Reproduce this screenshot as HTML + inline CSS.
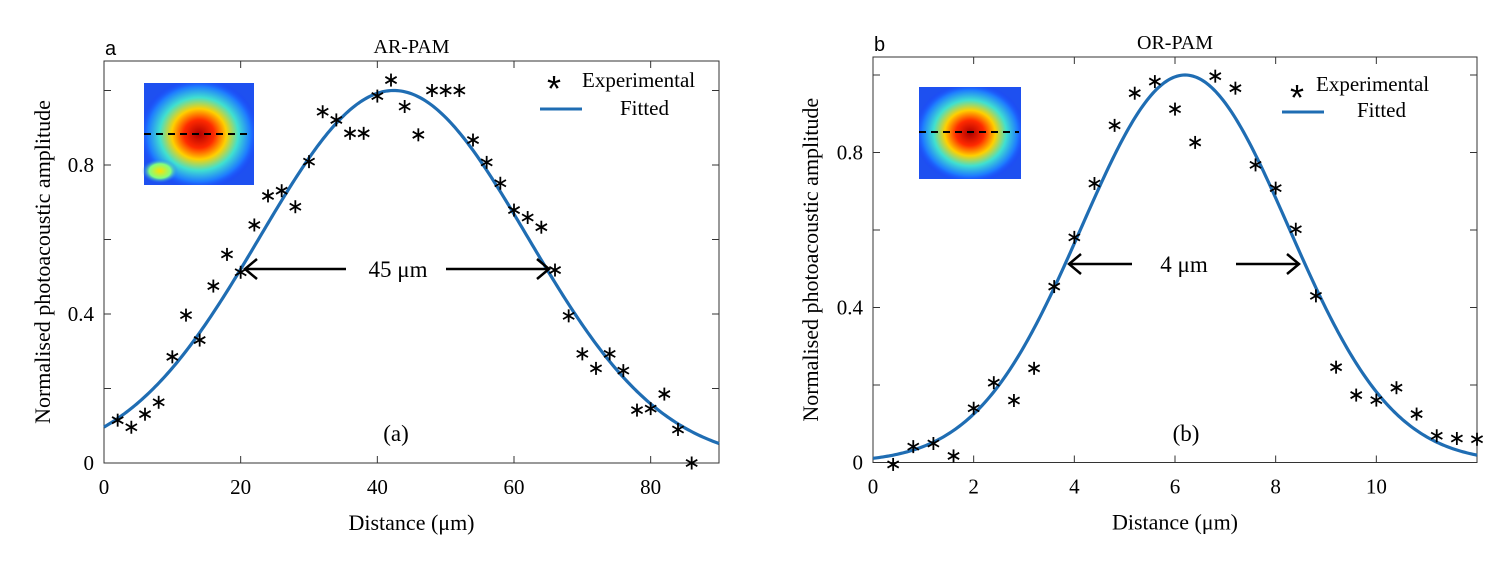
<!DOCTYPE html>
<html><head><meta charset="utf-8"><style>
html,body{margin:0;padding:0;background:#fff;}
svg{display:block;font-family:"Liberation Serif",serif;}
</style></head><body>
<svg id="fig" width="1500" height="565" viewBox="0 0 1500 565" xmlns="http://www.w3.org/2000/svg">
<defs>
<radialGradient id="spotA" cx="0.5" cy="0.5" r="0.55">
<stop offset="0" stop-color="#b00000"/><stop offset="0.25" stop-color="#ff2a00"/><stop offset="0.45" stop-color="#ffd000"/><stop offset="0.65" stop-color="#40e0d0"/><stop offset="0.85" stop-color="#1e7bff"/><stop offset="1" stop-color="#1a3cff" stop-opacity="0"/></radialGradient>
<radialGradient id="spotY" cx="0.5" cy="0.5" r="0.5">
<stop offset="0" stop-color="#ffe000"/><stop offset="0.6" stop-color="#80ff80"/><stop offset="1" stop-color="#2080ff" stop-opacity="0"/></radialGradient>
</defs>
<g id="panelA"></g>
<g id="panelB"></g>
</svg>
<script>
// Panel A data (AR-PAM)
const aX = [2,4,6,8,10,12,14,16,18,20,22,24,26,28,30,32,34,36,38,40,42,44,46,48,50,52,54,56,58,60,62,64,66,68,70,72,74,76,78,80,82,84,86];
const aY = [0.115,0.096,0.131,0.163,0.285,0.397,0.330,0.475,0.560,0.512,0.639,0.717,0.731,0.688,0.809,0.943,0.921,0.885,0.885,0.985,1.028,0.957,0.881,1.0,1.0,1.0,0.867,0.807,0.751,0.679,0.659,0.633,0.518,0.395,0.293,0.254,0.293,0.248,0.142,0.146,0.185,0.090,0.0];
const aFit = {amp:1.0, mu:42.4, sigma:19.6};
const aXTicks = [0,20,40,60,80];
const aYTicks = [0,0.2,0.4,0.6,0.8,1.0];
const aYLabels = [0,0.4,0.8];
// Panel B data (OR-PAM)
const bX = [0.4,0.8,1.2,1.6,2.0,2.4,2.8,3.2,3.6,4.0,4.4,4.8,5.2,5.6,6.0,6.4,6.8,7.2,7.6,8.0,8.4,8.8,9.2,9.6,10.0,10.4,10.8,11.2,11.6,12.0];
const bY = [-0.005,0.041,0.049,0.017,0.140,0.206,0.160,0.243,0.454,0.581,0.720,0.870,0.953,0.983,0.912,0.826,0.997,0.966,0.768,0.708,0.602,0.430,0.246,0.174,0.161,0.193,0.125,0.069,0.062,0.060];
const bFit = {amp:1.0, mu:6.2, sigma:2.06};
const bXTicks = [0,2,4,6,8,10];
const bYTicks = [0,0.2,0.4,0.6,0.8,1.0];
const bYLabels = [0,0.4,0.8];

const NS='http://www.w3.org/2000/svg';
function mk(parent, tag, attrs, text){
  const e=document.createElementNS(NS,tag);
  for(const k in attrs) e.setAttribute(k,attrs[k]);
  if(text!==undefined) e.textContent=text;
  parent.appendChild(e); return e;
}
function star(g,cx,cy){
  const s=mk(g,'g',{stroke:'#000','stroke-width':1.8});
  
  
  const r=6.5;
  for(let k=0;k<3;k++){const a=Math.PI/2+k*Math.PI/3;
    mk(s,'line',{x1:cx-r*Math.cos(a),y1:cy-r*Math.sin(a),x2:cx+r*Math.cos(a),y2:cy+r*Math.sin(a)});}
  return s;
}
function panel(g, cfg){
  const {L,R,T,B,xMax,yMin,yMax,xs,ys,fit,xt,yt,yl,title,letter,fwhm,arrow,inset,legend,sub}=cfg;
  const sx=v=>L+(v/xMax)*(R-L);
  const sy=v=>B-((v-yMin)/(yMax-yMin))*(B-T);
  const ax=mk(g,'rect',{x:L,y:T,width:R-L,height:B-T,fill:'none',stroke:'#333','stroke-width':1});
   
  const tg=mk(g,'g',{stroke:'#333','stroke-width':1});
   
  xt.forEach(v=>{const x=sx(v);mk(tg,'line',{x1:x,y1:B,x2:x,y2:B-7});mk(tg,'line',{x1:x,y1:T,x2:x,y2:T+7});
    const t=mk(g,'text',{x:x,y:B+31,'font-size':21,'text-anchor':'middle'},String(v));
     });
  yt.forEach(v=>{const y=sy(v);mk(tg,'line',{x1:L,y1:y,x2:L+7,y2:y});mk(tg,'line',{x1:R,y1:y,x2:R-7,y2:y});});
  yl.forEach(v=>{const y=sy(v);
    const t=mk(g,'text',{x:L-10,y:y+7,'font-size':21,'text-anchor':'end'},v===0?'0':String(v));
     });
  const ig=mk(g,'g',{});  
  mk(ig,'rect',{x:inset.x,y:inset.y,width:inset.w,height:inset.h,fill:'#1e50f0'});
  mk(ig,'rect',{x:inset.x,y:inset.y,width:inset.w,height:inset.h,fill:'url(#spotA)'});
  if(inset.yellow) mk(ig,'ellipse',{cx:inset.x+16,cy:inset.y+inset.h-14,rx:18,ry:12,fill:'url(#spotY)'});
  mk(ig,'line',{x1:inset.x,y1:inset.dy,x2:inset.x2,y2:inset.dy,stroke:'#000','stroke-width':2,'stroke-dasharray':'7,5'});
  let d='';
  for(let i=0;i<=300;i++){const x=xMax*i/300;const y=fit.amp*Math.exp(-Math.pow(x-fit.mu,2)/(2*fit.sigma*fit.sigma));
    d+=(i?'L':'M')+sx(x).toFixed(2)+','+sy(y).toFixed(2);}
  const fc=mk(g,'path',{d:d,fill:'none',stroke:'#1f6db3','stroke-width':3.2});
   
  xs.forEach((x,i)=>star(g,sx(x),sy(ys[i])));
  const ag=mk(g,'g',{stroke:'#000','stroke-width':2.5,fill:'none'});
   
  mk(ag,'line',{x1:arrow.l1,y1:arrow.y,x2:arrow.l2,y2:arrow.y});
  mk(ag,'polyline',{points:`${arrow.l1+12},${arrow.y-10} ${arrow.l1},${arrow.y} ${arrow.l1+12},${arrow.y+10}`});
  mk(ag,'line',{x1:arrow.r1,y1:arrow.y,x2:arrow.r2,y2:arrow.y});
  mk(ag,'polyline',{points:`${arrow.r2-12},${arrow.y-10} ${arrow.r2},${arrow.y} ${arrow.r2-12},${arrow.y+10}`});
  const ft=mk(g,'text',{x:arrow.tx,y:arrow.y+8,'font-size':23,'text-anchor':'middle'},fwhm);
   
  const lg=mk(g,'g',{});  
  const ls=mk(lg,'text',{x:legend.sx,y:legend.sy+18,'font-size':36,'text-anchor':'middle','font-family':'Liberation Sans, sans-serif'},'*');
   
  const le=mk(lg,'text',{x:legend.ex,y:legend.ey,'font-size':21},'Experimental');
   
  mk(lg,'line',{x1:legend.l1,y1:legend.ly,x2:legend.l2,y2:legend.ly,stroke:'#1f6db3','stroke-width':3});
  const lf=mk(lg,'text',{x:legend.fx,y:legend.fy,'font-size':21},'Fitted');
   
  const tt=mk(g,'text',{x:(L+R)/2,y:T-8,'font-size':20,'text-anchor':'middle'},title);
   
  const lt=mk(g,'text',{x:L+1,y:T-6,'font-size':20,'font-family':'Liberation Sans, sans-serif'},letter);
   
  const st=mk(g,'text',{x:sub.x,y:sub.y,'font-size':23,'text-anchor':'middle'},sub.t);
   
  const xl=mk(g,'text',{x:(L+R)/2,y:B+67,'font-size':22,'text-anchor':'middle'},'Distance (\u03bcm)');
   
  const yc=(T+B)/2;
  const yt2=mk(g,'text',{x:cfg.ylx,y:yc,'font-size':22,'text-anchor':'middle',transform:`rotate(-90 ${cfg.ylx} ${yc})`},'Normalised photoacoustic amplitude');
   
}
panel(document.getElementById('panelA'),{L:104,R:719,T:61,B:463,xMax:90,yMin:0,yMax:402/372.5,
  xs:aX,ys:aY,fit:aFit,xt:aXTicks,yt:aYTicks,yl:aYLabels,title:'AR-PAM',letter:'a',fwhm:'45 \u03bcm',
  arrow:{y:269,l1:245,l2:346,r1:446,r2:549,tx:398},
  inset:{x:144,y:83,w:110,h:102,dy:134,x2:250,yellow:true},
  legend:{sx:554,sy:83,ex:582,ey:87,l1:540,l2:582,ly:109,fx:620,fy:115},
  sub:{x:396,y:441,t:'(a)'},ylx:50});
panel(document.getElementById('panelB'),{L:873,R:1477,T:57,B:462.5,xMax:12,yMin:0,yMax:405.5/387.5,
  xs:bX,ys:bY,fit:bFit,xt:bXTicks,yt:bYTicks,yl:bYLabels,title:'OR-PAM',letter:'b',fwhm:'4 \u03bcm',
  arrow:{y:264,l1:1069,l2:1132,r1:1236,r2:1299,tx:1184},
  inset:{x:919,y:87,w:102,h:92,dy:132,x2:1019,yellow:false},
  legend:{sx:1297,sy:92,ex:1316,ey:91,l1:1282,l2:1324,ly:112,fx:1357,fy:117},
  sub:{x:1186,y:441,t:'(b)'},ylx:818});
</script>
</body></html>
